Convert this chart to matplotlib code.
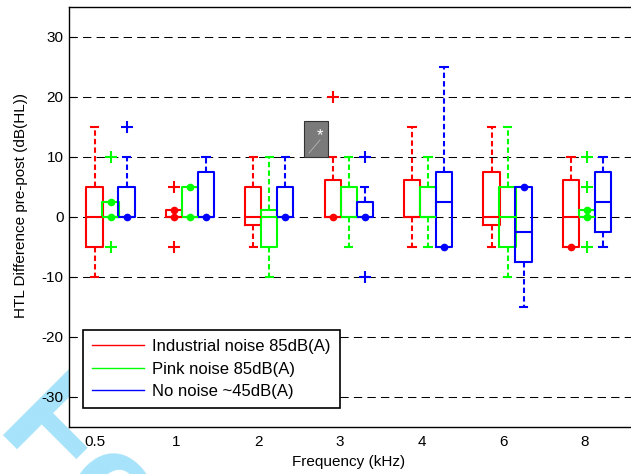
import numpy as np
import matplotlib
matplotlib.use('Agg')
import matplotlib.pyplot as plt
from matplotlib.lines import Line2D
from matplotlib.patches import Rectangle

plt.rcParams['font.family'] = ['Liberation Sans', 'DejaVu Sans']
plt.rcParams['axes.unicode_minus'] = False

# frequencies (kHz)
freqs = ['0.5', '1', '2', '3', '4', '6', '8']
labels = ['Industrial noise 85dB(A)', 'Pink noise 85dB(A)', 'No noise ~45dB(A)']
colors = ['#ff0000', '#00ff00', '#0000ff']

# box stats per condition: lower whisker, q1, median, q3, upper whisker, outliers
ind_lo = [-10, 0, -5, 0, -5, -5, -5]
ind_q1 = [-5, 0, -1.25, 0, 0, -1.25, -5]
ind_med = [0, 0, 0, 0, 0, 0, 0]
ind_q3 = [5, 1.25, 5, 6.25, 6.25, 7.5, 6.25]
ind_hi = [15, 1.25, 10, 10, 15, 15, 10]
ind_out = [[], [5, -5], [], [20], [], [], []]

pink_lo = [0, 0, -10, -5, -5, -10, 0]
pink_q1 = [0, 0, -5, 0, 0, -5, 0]
pink_med = [0, 0, 0, 0, 0, 0, 0]
pink_q3 = [2.5, 5, 1.25, 5, 5, 5, 1.25]
pink_hi = [2.5, 5, 10, 10, 10, 15, 1.25]
pink_out = [[10, -5], [], [], [], [], [], [10, 5, -5]]

none_lo = [0, 0, 0, 0, -5, -15, -5]
none_q1 = [0, 0, 0, 0, -5, -7.5, -2.5]
none_med = [0, 0, 0, 0, 2.5, -2.5, 2.5]
none_q3 = [5, 7.5, 5, 2.5, 7.5, 5, 7.5]
none_hi = [10, 10, 10, 5, 25, 5, 10]
none_out = [[15], [], [], [10, -10], [], [], []]

series = [
    (ind_lo, ind_q1, ind_med, ind_q3, ind_hi, ind_out),
    (pink_lo, pink_q1, pink_med, pink_q3, pink_hi, pink_out),
    (none_lo, none_q1, none_med, none_q3, none_hi, none_out),
]

W, H = 631, 474
fig = plt.figure(figsize=(W / 100, H / 100), dpi=100)
ax = fig.add_axes([69 / W, 47 / H, (631 - 69) / W, (467 - 47) / H])

# layout in tick units (one tick step = 81.6 px)
step = 79.4 / 81.6
start = -0.5 / 81.6
offs = [0, 16 / 81.6, 32 / 81.6]
base = start + np.arange(len(freqs)) * step

dash_w = (0, (2.6, 1.5))
for k, (lo, q1, med, q3, hi, out) in enumerate(series):
    c = colors[k]
    pos = base + offs[k]
    stats = []
    for i in range(len(freqs)):
        stats.append(dict(whislo=lo[i], q1=q1[i], med=med[i], q3=q3[i],
                          whishi=hi[i], fliers=np.array(out[i], dtype=float)))
    ax.bxp(stats, positions=pos, widths=0.2, capwidths=0.09, showfliers=True,
           boxprops=dict(color=c, lw=1.5),
           whiskerprops=dict(color=c, lw=1.5, linestyle=dash_w),
           capprops=dict(color=c, lw=1.5),
           medianprops=dict(color=c, lw=1.5),
           flierprops=dict(marker='+', markeredgecolor=c, markersize=8,
                           markeredgewidth=1.5, linestyle='none'))
    # zero-length whiskers show as dots
    for i in range(len(freqs)):
        if lo[i] == q1[i]:
            ax.plot(pos[i], lo[i], 'o', color=c, ms=4.5, zorder=4)
        if hi[i] == q3[i]:
            ax.plot(pos[i], hi[i], 'o', color=c, ms=4.5, zorder=4)

ax.set_xlim((69 - 95) / 81.6, (631 - 95) / 81.6)
ax.set_ylim(-35, 35)
ax.set_xticks(np.arange(len(freqs)))
ax.set_xticklabels(freqs)
ax.set_yticks(np.arange(-30, 31, 10))
ax.tick_params(axis='x', length=0, pad=6, labelsize=11)
ax.tick_params(axis='y', direction='in', length=5, width=0.8, pad=4, labelsize=11)
ax.yaxis.grid(True, color='k', lw=0.75, linestyle=(0, (8, 5)))
ax.set_axisbelow(True)
ax.spines['right'].set_visible(False)
for s in ['left', 'bottom', 'top']:
    ax.spines[s].set_linewidth(1.0)

fig.text(21 / W, 1 - 206 / H, 'HTL Difference pre-post (dB(HL))', rotation=90,
         ha='center', va='center', fontsize=11)
fig.text(349 / W, 1 - 462 / H, 'Frequency (kHz)', ha='center', va='center', fontsize=11)

handles = [Line2D([], [], color=c, lw=1) for c in colors]
leg = ax.legend(handles, labels, loc='upper left', bbox_to_anchor=(83 / W, 1 - 330 / H),
                bbox_transform=fig.transFigure, borderaxespad=0, fancybox=False,
                edgecolor='k', framealpha=1, fontsize=12, handlelength=3.1,
                handletextpad=0.5, labelspacing=0.45, borderpad=0.55)
leg.get_frame().set_linewidth(1.2)

# sticky-note icon
fig.add_artist(Rectangle((304 / W, 1 - 157 / H), 24 / W, 36 / H, transform=fig.transFigure,
                         fc='#7a7a7a', ec='#333333', lw=0.8, zorder=10))
fig.add_artist(Line2D([309 / W, 320 / W], [1 - 153 / H, 1 - 140 / H], transform=fig.transFigure,
                      color='#b5b5b5', lw=0.6, zorder=11))
fig.text(320 / W, 1 - 136 / H, '*', color='white', fontsize=12, ha='center', va='center', zorder=11)

# watermark behind the axes
fig.text(-4 / W, 1 - 428 / H, 'For Peer Review', rotation=-45, rotation_mode='anchor',
         color='#a6e3fa', fontsize=100, fontweight='bold', ha='left', va='baseline', zorder=-10)

fig.savefig('out.png', dpi=100)
